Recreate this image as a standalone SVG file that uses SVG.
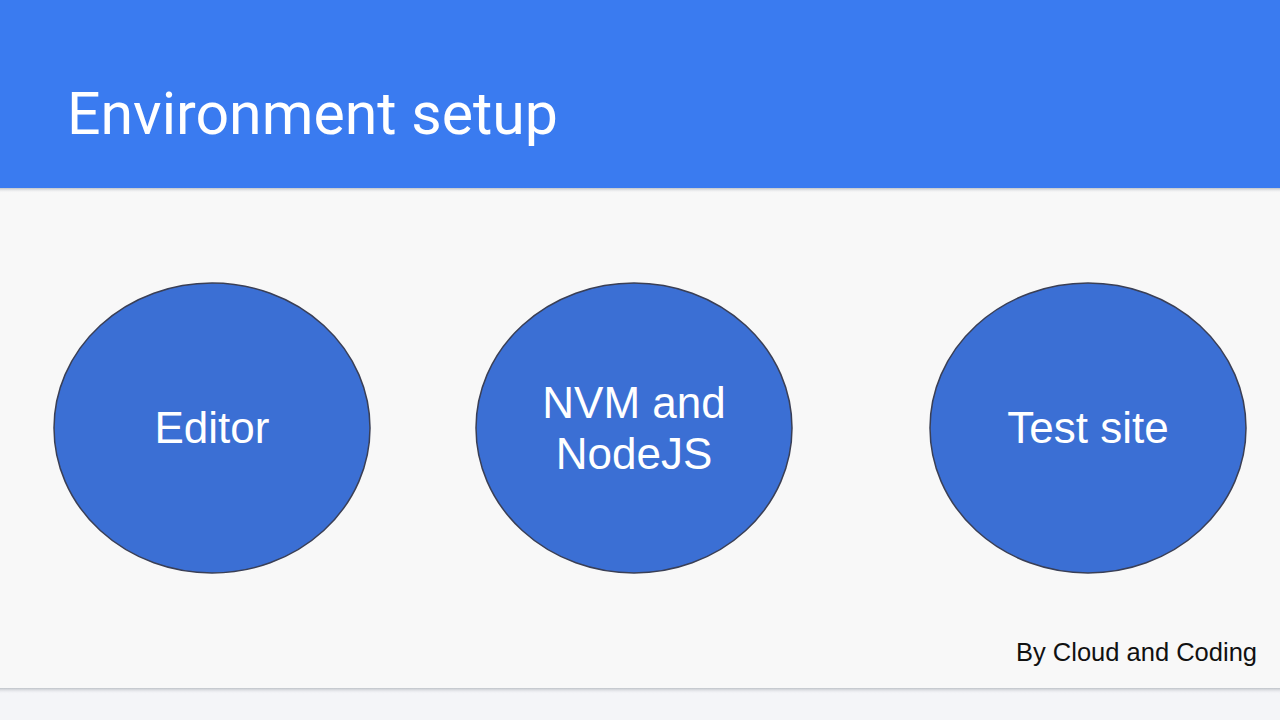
<svg xmlns="http://www.w3.org/2000/svg" width="1280" height="720" viewBox="0 0 1280 720">
<defs>
<linearGradient id="sh" x1="0" y1="0" x2="0" y2="1"><stop offset="0" stop-color="#9aa0a8" stop-opacity="0.6"/><stop offset="1" stop-color="#f6f6f8" stop-opacity="0"/></linearGradient>
<style>
.node ellipse{fill:#3b6fd4;stroke:#3a3f55;stroke-width:1.5}
.lbl{font-family:"Liberation Sans",Arial,sans-serif;font-size:44px;fill:#ffffff;text-anchor:middle}
</style>
</defs>
<rect width="1280" height="720" fill="#f4f5f8"/>
<rect width="1280" height="688" fill="#f8f8f8"/>
<rect x="0" y="688" width="1280" height="6" fill="url(#sh)"/>
<rect width="1280" height="188" fill="#3a7bf0"/>
<rect x="0" y="188" width="1280" height="5" fill="url(#sh)"/>
<text x="67" y="134" font-family="Roboto,'Liberation Sans',sans-serif" font-size="59" fill="#ffffff">Environment setup</text>
<g id="connectors"></g>
<g id="editor" class="node"><ellipse cx="212" cy="428" rx="158" ry="145"/><text class="lbl" x="212" y="443">Editor</text></g>
<g id="nvm" class="node"><ellipse cx="634" cy="428" rx="158" ry="145"/><text class="lbl" x="634" y="418">NVM and</text><text class="lbl" x="634" y="469">NodeJS</text></g>
<g id="testsite" class="node"><ellipse cx="1088" cy="428" rx="158" ry="145"/><text class="lbl" x="1088" y="443">Test site</text></g>
<text x="1257" y="661" text-anchor="end" font-family="'Liberation Sans',Arial,sans-serif" font-size="25.5" fill="#111111">By Cloud and Coding</text>
</svg>
